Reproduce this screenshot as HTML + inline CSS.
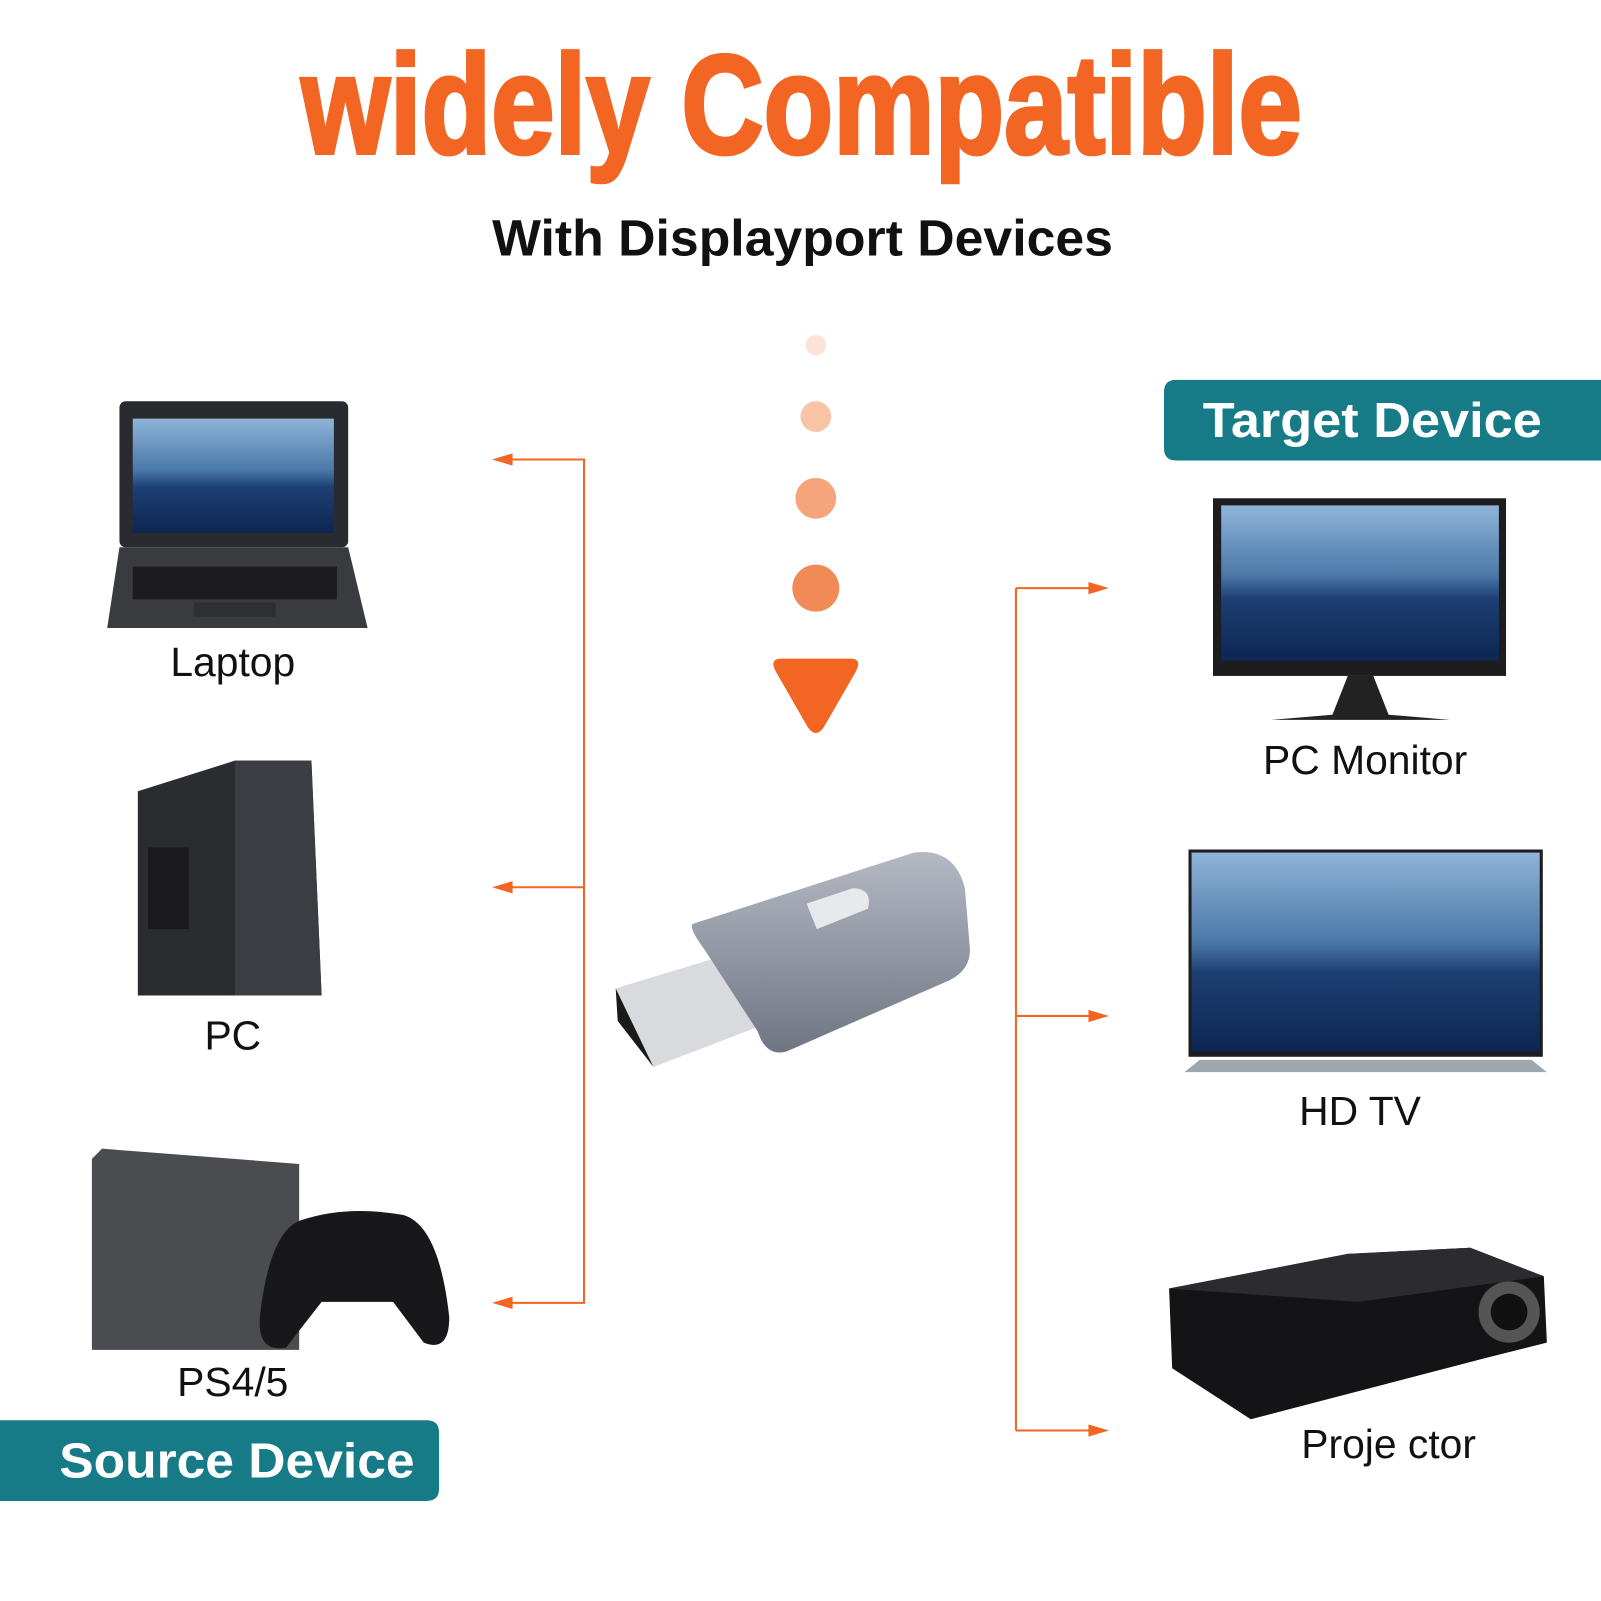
<!DOCTYPE html>
<html><head><meta charset="utf-8"><style>
html,body{margin:0;padding:0;background:#fff;}
svg{display:block}
text{font-family:"Liberation Sans",sans-serif}
</style></head><body>
<svg width="1601" height="1601" viewBox="0 0 1568 1568" xmlns="http://www.w3.org/2000/svg">
<defs>
<linearGradient id="scr" x1="0" y1="0" x2="0" y2="1">
<stop offset="0" stop-color="#8fb4d8"/><stop offset="0.45" stop-color="#4a78a8"/><stop offset="0.6" stop-color="#1d3f73"/><stop offset="1" stop-color="#0d2652"/>
</linearGradient>
<linearGradient id="grey" x1="0" y1="0" x2="0" y2="1">
<stop offset="0" stop-color="#b4b9c4"/><stop offset="1" stop-color="#6f7582"/>
</linearGradient>
</defs>
<!-- title -->
<g transform="translate(785,150) scale(1,0.92)">
<text x="0" y="0" text-anchor="middle" font-family="Liberation Sans Narrow, Liberation Sans, sans-serif" font-weight="bold" font-size="150" fill="#F26522" stroke="#F26522" stroke-width="4" textLength="980" lengthAdjust="spacingAndGlyphs">widely Compatible</text>
</g>
<text x="786" y="250" text-anchor="middle" font-weight="bold" font-size="50" fill="#111" textLength="608" lengthAdjust="spacingAndGlyphs">With Displayport Devices</text>
<!-- dots -->
<circle cx="799" cy="338" r="10" fill="#fde3d6"/>
<circle cx="799" cy="408" r="15" fill="#f9c3a6"/>
<circle cx="799" cy="488" r="20" fill="#f5a47c"/>
<circle cx="799" cy="576" r="23" fill="#f28a58"/>
<path d="M765 645 L833 645 Q845 645 838 658 L807 712 Q799 724 791 712 L760 658 Q753 645 765 645 Z" fill="#F26522"/>
<g stroke="#F26522" stroke-width="2" fill="none">
<path d="M500 450 H572 V1276 H500 M572 869 H500"/>
<path d="M995 576 V1401 M995 576 H1068 M995 995 H1068 M995 1401 H1068"/>
</g>
<g fill="#F26522">
<path d="M482 450 L502 444 L502 456 Z"/><path d="M482 869 L502 863 L502 875 Z"/><path d="M482 1276 L502 1270 L502 1282 Z"/>
<path d="M1086 576 L1066 570 L1066 582 Z"/><path d="M1086 995 L1066 989 L1066 1001 Z"/><path d="M1086 1401 L1066 1395 L1066 1407 Z"/>
</g>
<path d="M1152 372 H1568 V451 H1152 Q1140 451 1140 439 V384 Q1140 372 1152 372 Z" fill="#167a87"/>
<text x="1344" y="428" text-anchor="middle" font-weight="bold" font-size="48" fill="#fff" textLength="332" lengthAdjust="spacingAndGlyphs">Target Device</text>
<path d="M0 1391 H418 Q430 1391 430 1403 V1458 Q430 1470 418 1470 H0 Z" fill="#167a87"/>
<text x="232" y="1447" text-anchor="middle" font-weight="bold" font-size="48" fill="#fff" textLength="348" lengthAdjust="spacingAndGlyphs">Source Device</text>
<g font-size="40" fill="#111" text-anchor="middle">
<text x="228" y="662">Laptop</text>
<text x="228" y="1028">PC</text>
<text x="228" y="1367">PS4/5</text>
<text x="1337" y="758">PC Monitor</text>
<text x="1332" y="1102">HD TV</text>
<text x="1360" y="1428">Proje ctor</text>
</g>
<!-- laptop -->
<rect x="117" y="393" width="224" height="143" rx="6" fill="#2a2b2e"/>
<rect x="130" y="410" width="197" height="112" fill="url(#scr)"/>
<path d="M117 536 H341 L360 615 H105 Z" fill="#3a3b3f"/>
<rect x="130" y="555" width="200" height="32" fill="#1c1c1e"/>
<rect x="190" y="590" width="80" height="14" fill="#2e2f33"/>
<!-- PC -->
<path d="M135 775 L230 745 H305 L315 975 H135 Z" fill="#2b2c30"/>
<path d="M230 745 H305 L315 975 H230 Z" fill="#3b3d42"/>
<rect x="145" y="830" width="40" height="80" fill="#1a1a1c"/>
<!-- PS -->
<path d="M100 1125 L293 1140 V1322 H90 V1135 Z" fill="#4a4c50"/>
<path d="M295 1195 Q340 1180 395 1190 Q430 1200 440 1290 Q440 1325 415 1315 L385 1275 H315 L280 1320 Q250 1325 255 1285 Q265 1205 295 1195 Z" fill="#18181a"/>
<!-- monitor -->
<rect x="1188" y="488" width="287" height="174" fill="#1d1d20"/>
<rect x="1196" y="495" width="272" height="152" fill="url(#scr)"/>
<path d="M1320 662 L1305 700 L1245 705 H1420 L1360 700 L1345 662 Z" fill="#222"/>
<!-- TV -->
<rect x="1164" y="832" width="347" height="203" fill="#1d1d20"/>
<rect x="1167" y="835" width="341" height="195" fill="url(#scr)"/>
<path d="M1160 1050 L1175 1038 H1500 L1515 1050 Z" fill="#9ea6b0"/>
<!-- projector -->
<path d="M1145 1262 L1320 1228 L1440 1222 L1512 1250 L1515 1315 L1455 1330 L1225 1390 L1148 1340 Z" fill="#141416"/>
<path d="M1145 1262 L1320 1228 L1440 1222 L1512 1250 L1330 1275 Z" fill="#2c2c30"/>
<circle cx="1478" cy="1285" r="30" fill="#555"/><circle cx="1478" cy="1285" r="18" fill="#111"/>
<!-- adapter -->
<path d="M603 968 L712 935 L752 1002 L640 1045 Z" fill="#d8dadd"/>
<path d="M603 968 L640 1045 L605 1000 Z" fill="#1a1a1a"/>
<path d="M678 905 L895 835 Q935 830 945 870 L950 930 Q950 950 930 960 L770 1030 Q750 1035 742 1010 L690 930 Q675 910 678 905 Z" fill="url(#grey)"/>
<path d="M790 885 L835 870 Q855 870 850 890 L800 910 Z" fill="#e8e9ec"/>
</svg>
</body></html>
